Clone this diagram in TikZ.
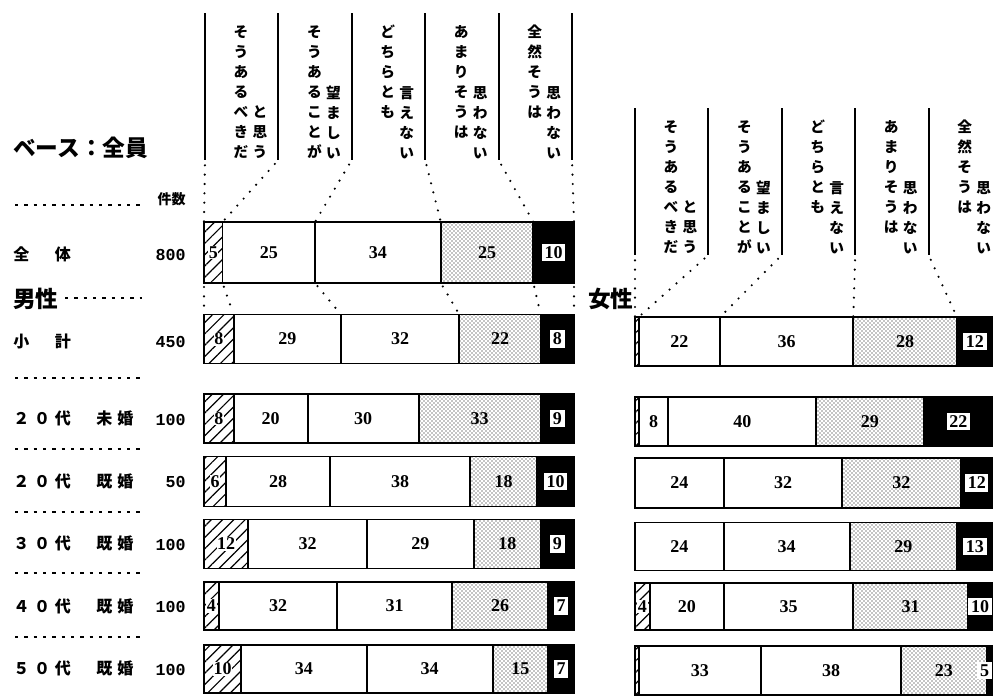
\documentclass[tikz,border=0pt]{standalone}
\usepackage{fontspec}
\setmainfont{Liberation Serif}
\newfontfamily\jpfont{Noto Sans CJK JP}
\newfontfamily\jplabelfont{Noto Sans CJK JP}[LetterSpace=30]
\newfontfamily\cntfont{Liberation Mono}
\usetikzlibrary{positioning,patterns,patterns.meta}

\tikzset{
  seg/.style={draw=black,line width=1.4pt,inner sep=0pt,outer sep=0pt,anchor=west,
    font=\bfseries\fontsize{13.5pt}{14pt}\selectfont},
  hatchseg/.style={seg,pattern={Lines[angle=45,distance=6pt,line width=0.9pt]}},
  dotseg/.style={seg,fill=gray!15,pattern=crosshatch dots},
  blackseg/.style={seg,fill=black},
  blacklab/.style={inner sep=0pt,font=\bfseries\fontsize{13.5pt}{14pt}\selectfont},
  sep/.style={line width=1.6pt},
  guide/.style={line width=1.8pt,line cap=round,dash pattern=on 0pt off 7pt},
  rule/.style={line width=1.5pt,dash pattern=on 2.5pt off 4.5pt},
  vhead/.style={align=center,inner sep=0pt,font=\jpfont\bfseries\fontsize{11pt}{15pt}\selectfont},
  rowlab/.style={anchor=west,inner sep=0pt,font=\jplabelfont\bfseries\fontsize{12pt}{14pt}\selectfont},
  cnt/.style={anchor=east,inner sep=0pt,font=\cntfont\bfseries\fontsize{12.5pt}{14pt}\selectfont},
  bighead/.style={anchor=west,inner sep=0pt,font=\jpfont\bfseries\fontsize{17pt}{20pt}\selectfont},
}

% labels in the hatched and black parts
\newcommand{\hnum}[1]{\ifnum#1>2 {\fboxsep=0.5pt\colorbox{white}{#1}}\fi}
\newcommand{\bnum}[1]{{\fboxsep=2pt\colorbox{white}{#1}}}
\newcommand{\xcap}{2000}

% one answer bar: name, x, y, height, then the five shares
\newcommand{\ansrow}[9]{%
  \pgfmathsetmacro{\usedpx}{(#5+#6+#7+#8)*3.7}
  \pgfmathsetmacro{\restpx}{min((100-#5-#6-#7-#8)*3.7,\xcap-#2-\usedpx)}
  \pgfmathsetmacro{\labroom}{#9>9 ? 13 : 8.5}
  \pgfmathsetmacro{\labx}{min(#2+\usedpx+\restpx/2,\xcap-\labroom)}
  \node[hatchseg,minimum width=#5*2.775pt,minimum height=#4*0.75pt] (#1-1) at (#2,#3) {\hnum{#5}};
  \node[seg,minimum width=#6*2.775pt,minimum height=#4*0.75pt,right=0pt of #1-1] (#1-2) {#6};
  \node[seg,minimum width=#7*2.775pt,minimum height=#4*0.75pt,right=0pt of #1-2] (#1-3) {#7};
  \node[dotseg,minimum width=#8*2.775pt,minimum height=#4*0.75pt,right=0pt of #1-3] (#1-4) {#8};
  \node[blackseg,minimum width=\restpx*0.75pt,minimum height=#4*0.75pt,right=0pt of #1-4] (#1-5) {};
  \node[blacklab] (#1-5t) at (\labx,#3) {\bnum{#9}};
}

% column heads above the bars
\newcommand{\anshead}[1]{%
  \foreach \i in {0,...,5}
    \coordinate (#1s\i) at (\i*73.4,147);
  \foreach \i in {0,...,5}
    \draw[sep] (\i*73.4,0) -- (#1s\i);
  \node[vhead,anchor=north] (#1h1a) at (36,12) {そ\\う\\あ\\る\\べ\\き\\だ};
  \node[vhead,anchor=south] (#1h1b) at (55,146) {と\\思\\う};
  \node[vhead,anchor=north] (#1h2a) at (109.4,12) {そ\\う\\あ\\る\\こ\\と\\が};
  \node[vhead,anchor=south] (#1h2b) at (128.4,146) {望\\ま\\し\\い};
  \node[vhead,anchor=north] (#1h3a) at (182.8,12) {ど\\ち\\ら\\と\\も};
  \node[vhead,anchor=south] (#1h3b) at (201.8,146) {言\\え\\な\\い};
  \node[vhead,anchor=north] (#1h4a) at (256.2,12) {あ\\ま\\り\\そ\\う\\は};
  \node[vhead,anchor=south] (#1h4b) at (275.2,146) {思\\わ\\な\\い};
  \node[vhead,anchor=north] (#1h5a) at (329.6,12) {全\\然\\そ\\う\\は};
  \node[vhead,anchor=south] (#1h5b) at (348.6,146) {思\\わ\\な\\い};
}

\begin{document}
\begin{tikzpicture}[x=0.75pt,y=-0.75pt]
  \useasboundingbox (0,0) rectangle (993,697);
  \clip (0,0) rectangle (993,697);

  % left side labels
  \node[bighead] (base) at (13,148) {ベース：全員};
  \draw[rule] (15,205) -- (142,205);
  \node[cnt,font=\jpfont\bfseries\fontsize{10.5pt}{12pt}\selectfont] (ken) at (186,199) {件数};
  \node[rowlab] (lAll) at (13,254) {全　体};
  \node[cnt] (nAll) at (186,255) {800};
  \node[bighead] (men) at (13,299) {男性};
  \draw[rule] (65,298) -- (142,298);
  \node[rowlab] (lSub) at (13,341) {小　計};
  \node[cnt] (nSub) at (186,342) {450};
  \draw[rule] (15,378) -- (142,378);
  \node[rowlab] (lU20) at (13,418) {２０代　未婚};
  \node[cnt] (nU20) at (186,420) {100};
  \draw[rule] (15,449) -- (142,449);
  \node[rowlab] (lM20) at (13,481) {２０代　既婚};
  \node[cnt] (nM20) at (186,482) {50};
  \draw[rule] (15,512) -- (142,512);
  \node[rowlab] (lM30) at (13,543) {３０代　既婚};
  \node[cnt] (nM30) at (186,545) {100};
  \draw[rule] (15,573) -- (142,573);
  \node[rowlab] (lM40) at (13,606) {４０代　既婚};
  \node[cnt] (nM40) at (186,607) {100};
  \draw[rule] (15,637) -- (142,637);
  \node[rowlab] (lM50) at (13,668) {５０代　既婚};
  \node[cnt] (nM50) at (186,670) {100};
  \node[bighead] (women) at (588,299) {女性};

  % heads
  \begin{scope}[shift={(205,13)}]
    \anshead{m}
  \end{scope}
  \begin{scope}[shift={(635,108)}]
    \anshead{f}
  \end{scope}

  % men
  \ansrow{mAll}{204}{252.5}{61}{5}{25}{34}{25}{10}
  \ansrow{mSub}{204}{339}{49}{8}{29}{32}{22}{8}
  \ansrow{mU20}{204}{418.5}{49}{8}{20}{30}{33}{9}
  \ansrow{mM20}{204}{481.5}{50}{6}{28}{38}{18}{10}
  \ansrow{mM30}{204}{544}{49}{12}{32}{29}{18}{9}
  \ansrow{mM40}{204}{606}{48}{4}{32}{31}{26}{7}
  \ansrow{mM50}{204}{669}{48}{10}{34}{34}{15}{7}

  % women, cut at the right edge
  \renewcommand{\xcap}{993}
  \ansrow{fSub}{635}{341.5}{49}{1}{22}{36}{28}{12}
  \ansrow{fU20}{635}{421.5}{49}{1}{8}{40}{29}{22}
  \ansrow{fM20}{635}{483}{50}{0}{24}{32}{32}{12}
  \ansrow{fM30}{635}{546.5}{48}{0}{24}{34}{29}{13}
  \ansrow{fM40}{635}{606.5}{47}{4}{20}{35}{31}{10}
  \ansrow{fM50}{635}{670.5}{49}{1}{33}{38}{23}{5}

  % guide dots
  \draw[guide,shorten <=4pt] (ms0) -- (mAll-1.north west);
  \foreach \i in {1,...,5}
    \draw[guide,shorten <=4pt] (ms\i) -- (mAll-\i.north east);
  \draw[guide,shorten <=3pt,shorten >=3pt] (mAll-1.south west) -- (mSub-1.north west);
  \foreach \i in {1,...,5}
    \draw[guide,shorten <=3pt,shorten >=3pt] (mAll-\i.south east) -- (mSub-\i.north east);
  \draw[guide,shorten <=4pt] (fs0) -- (fSub-1.north west);
  \foreach \i in {1,...,4}
    \draw[guide,shorten <=4pt] (fs\i) -- (fSub-\i.north east);
\end{tikzpicture}
\end{document}
